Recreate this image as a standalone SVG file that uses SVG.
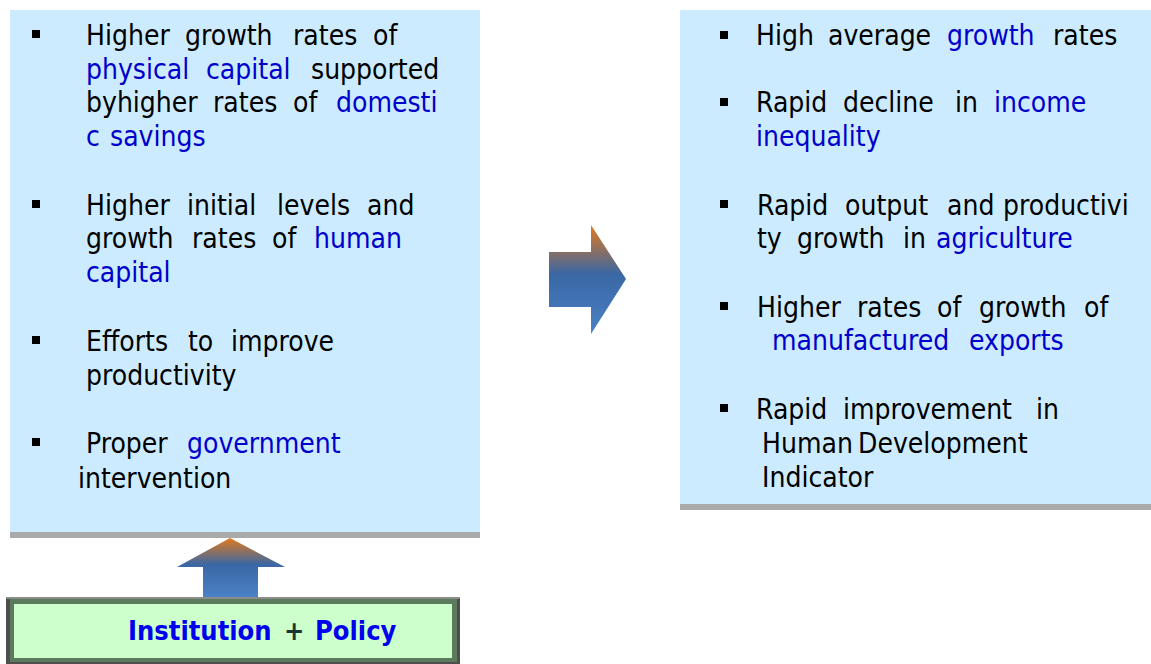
<svg xmlns="http://www.w3.org/2000/svg" width="1151" height="664" viewBox="0 0 1151 664">
  <defs>
    <linearGradient id="arrowRight" x1="0" y1="0" x2="0" y2="1">
      <stop offset="0" stop-color="#e37a1c"/>
      <stop offset="0.45" stop-color="#3a67a4"/>
      <stop offset="1" stop-color="#4a82c6"/>
    </linearGradient>
    <linearGradient id="arrowUp" x1="0" y1="0" x2="0" y2="1">
      <stop offset="0" stop-color="#e37a1c"/>
      <stop offset="0.45" stop-color="#3a67a4"/>
      <stop offset="1" stop-color="#4a82c6"/>
    </linearGradient>
    <style>
      .panel { fill: #ccebff; }
      .shadow { fill: #aaaaaa; }
      .bullet { fill: #000000; }
      .txt { font-family: "DejaVu Sans", Verdana, sans-serif; font-stretch: condensed; font-size: 28px; fill: #000000; }
      .hl { fill: #0000cc; }
      .label { font-family: "DejaVu Sans", Verdana, sans-serif; font-stretch: condensed; font-size: 27px; font-weight: bold; }
    </style>
  </defs>

  <!-- left panel: growth determinants -->
  <g id="determinants">
    <rect class="panel" x="10" y="10" width="470" height="522"/>
    <rect class="shadow" x="10" y="532" width="470" height="6"/>
    <rect class="bullet" x="32" y="30" width="8" height="8"/>
    <rect class="bullet" x="32" y="200" width="8" height="8"/>
    <rect class="bullet" x="32" y="336" width="8" height="8"/>
    <rect class="bullet" x="32" y="438" width="8" height="8"/>
    <text class="txt" y="45"><tspan x="86">Higher</tspan><tspan x="185">growth</tspan><tspan x="293">rates</tspan><tspan x="373">of</tspan></text>
    <text class="txt" y="79"><tspan x="86" class="hl">physical</tspan><tspan x="206" class="hl">capital</tspan><tspan x="311">supported</tspan></text>
    <text class="txt" y="112"><tspan x="86">byhigher</tspan><tspan x="213">rates</tspan><tspan x="293">of</tspan><tspan x="336" class="hl">domesti</tspan></text>
    <text class="txt" y="146"><tspan x="86" class="hl">c</tspan><tspan x="110" class="hl">savings</tspan></text>
    <text class="txt" y="215"><tspan x="86">Higher</tspan><tspan x="187">initial</tspan><tspan x="277">levels</tspan><tspan x="367">and</tspan></text>
    <text class="txt" y="248"><tspan x="86">growth</tspan><tspan x="192">rates</tspan><tspan x="272">of</tspan><tspan x="314" class="hl">human</tspan></text>
    <text class="txt" y="282"><tspan x="86" class="hl">capital</tspan></text>
    <text class="txt" y="351"><tspan x="86">Efforts</tspan><tspan x="188">to</tspan><tspan x="231">improve</tspan></text>
    <text class="txt" y="385"><tspan x="86">productivity</tspan></text>
    <text class="txt" y="453"><tspan x="86">Proper</tspan><tspan x="187" class="hl">government</tspan></text>
    <text class="txt" y="488"><tspan x="78">intervention</tspan></text>
  </g>

  <!-- right panel: outcomes -->
  <g id="outcomes">
    <rect class="panel" x="680" y="10" width="471" height="494"/>
    <rect class="shadow" x="680" y="504" width="471" height="6"/>
    <rect class="bullet" x="720" y="31" width="8" height="8"/>
    <rect class="bullet" x="720" y="98" width="8" height="8"/>
    <rect class="bullet" x="720" y="200" width="8" height="8"/>
    <rect class="bullet" x="720" y="302" width="8" height="8"/>
    <rect class="bullet" x="720" y="404" width="8" height="8"/>
    <text class="txt" y="45"><tspan x="756">High</tspan><tspan x="828">average</tspan><tspan x="947" class="hl">growth</tspan><tspan x="1053">rates</tspan></text>
    <text class="txt" y="112"><tspan x="756">Rapid</tspan><tspan x="843">decline</tspan><tspan x="955">in</tspan><tspan x="994" class="hl">income</tspan></text>
    <text class="txt" y="146"><tspan x="756" class="hl">inequality</tspan></text>
    <text class="txt" y="215"><tspan x="757">Rapid</tspan><tspan x="845">output</tspan><tspan x="947">and</tspan><tspan x="1003">productivi</tspan></text>
    <text class="txt" y="248"><tspan x="757">ty</tspan><tspan x="797">growth</tspan><tspan x="903">in</tspan><tspan x="936" class="hl">agriculture</tspan></text>
    <text class="txt" y="317"><tspan x="757">Higher</tspan><tspan x="857">rates</tspan><tspan x="937">of</tspan><tspan x="979">growth</tspan><tspan x="1084">of</tspan></text>
    <text class="txt" y="350"><tspan x="772" class="hl">manufactured</tspan><tspan x="969" class="hl">exports</tspan></text>
    <text class="txt" y="419"><tspan x="756">Rapid</tspan><tspan x="843">improvement</tspan><tspan x="1036">in</tspan></text>
    <text class="txt" y="453"><tspan x="762">Human</tspan><tspan x="858">Development</tspan></text>
    <text class="txt" y="487"><tspan x="762">Indicator</tspan></text>
  </g>

  <!-- base box: institutions and policy -->
  <g id="institution-policy">
    <rect x="6" y="597" width="454" height="67" fill="#4e4e4e"/>
    <rect x="6" y="597" width="454" height="2" fill="#8c8c8c"/>
    <rect x="10" y="599" width="447" height="63" fill="#5c7a5c"/>
    <rect x="14" y="604" width="438" height="54" fill="#ccffcc"/>
    <text class="label" y="640"><tspan x="128" fill="#0000ee">Institution</tspan><tspan x="284" fill="#1c3333">+</tspan><tspan x="315" fill="#0000ee">Policy</tspan></text>
  </g>

  <!-- block arrows -->
  <g id="connectors">
    <path d="M549 252 H591 V225 L626 279 L591 334 V307 H549 Z" fill="url(#arrowRight)"/>
    <path d="M230 538 L285 567 H258 V597 H203 V567 H177 Z" fill="url(#arrowUp)"/>
  </g>
</svg>
